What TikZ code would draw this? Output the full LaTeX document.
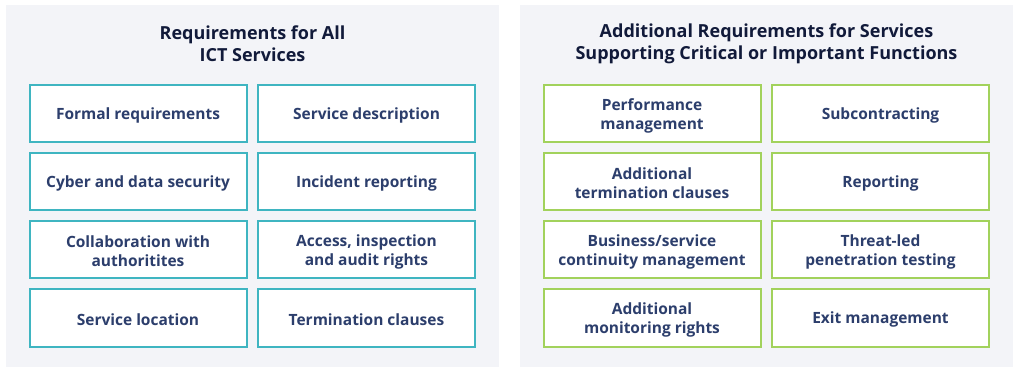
\documentclass[tikz,border=0pt]{standalone}
\usepackage{fontspec}
\setmainfont{Open Sans}
\definecolor{panelbg}{HTML}{F3F4F8}
\definecolor{teal}{HTML}{3FB5C1}
\definecolor{lgreen}{HTML}{A2D25C}
\definecolor{titlec}{HTML}{111A3A}
\definecolor{boxtext}{HTML}{2C3E6C}
\begin{document}
\begin{tikzpicture}[x=1pt,y=-1pt,
  panel/.style={fill=panelbg,draw=none},
  ptitle/.style={font=\fontsize{18}{22}\selectfont\bfseries,text=titlec,align=center,inner sep=0pt},
  reqbox/.style={draw=#1,line width=2pt,fill=white,minimum width=217pt,minimum height=57pt,inner sep=0pt},
  reqtext/.style={font=\fontsize{15.5}{19}\selectfont\bfseries,text=boxtext,align=center,inner sep=0pt,yshift=-1.5pt},
]
\useasboundingbox (0,0) rectangle (1017,371);
\fill[white] (0,0) rectangle (1017,371);
\path[panel] (6,5) rectangle (499,367);
\path[panel] (520,5) rectangle (1013,367);
\node[ptitle] (t1) at (252.5,44) {Requirements for All\\ICT Services};
\node[ptitle] (t2) at (766.5,44) {Additional Requirements for Services\\Supporting Critical or Important Functions};
\newcommand\reqnode[4]{%
  \node[reqbox=#2] (#1) at (#3) {};
  \node[reqtext] (#1-t) at (#1.center) {#4};}
% left panel
\reqnode{a1}{teal}{138,114}{Formal requirements}
\reqnode{a2}{teal}{366.5,114}{Service description}
\reqnode{a3}{teal}{138,182}{Cyber and data security}
\reqnode{a4}{teal}{366.5,182}{Incident reporting}
\reqnode{a5}{teal}{138,250}{Collaboration with\\authoritites}
\reqnode{a6}{teal}{366.5,250}{Access, inspection\\and audit rights}
\reqnode{a7}{teal}{138,318}{Service location}
\reqnode{a8}{teal}{366.5,318}{Termination clauses}
% right panel
\reqnode{b1}{lgreen}{652,114}{Performance\\management}
\reqnode{b2}{lgreen}{880.5,114}{Subcontracting}
\reqnode{b3}{lgreen}{652,182}{Additional\\termination clauses}
\reqnode{b4}{lgreen}{880.5,182}{Reporting}
\reqnode{b5}{lgreen}{652,250}{Business/service\\continuity management}
\reqnode{b6}{lgreen}{880.5,250}{Threat-led\\penetration testing}
\reqnode{b7}{lgreen}{652,318}{Additional\\monitoring rights}
\reqnode{b8}{lgreen}{880.5,318}{Exit management}
\end{tikzpicture}
\end{document}
